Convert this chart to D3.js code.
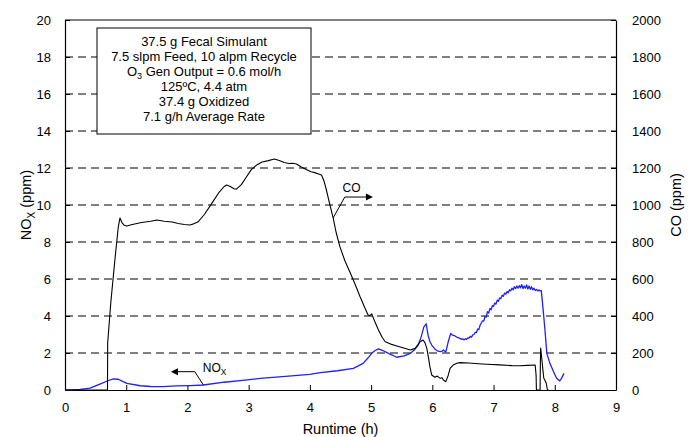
<!DOCTYPE html>
<html>
<head>
<meta charset="utf-8">
<script src="https://cdn.jsdelivr.net/npm/d3@7"></script>
<style>
  html, body { margin: 0; padding: 0; background: #fff; }
  svg { display: block; font-family: "Liberation Sans", Arial, sans-serif; }
</style>
</head>
<body>
<svg id="chart" width="693" height="437"></svg>
<script>
// Runtime (h) and CO concentration (ppm, right axis)
const coTime = [0, 0.30, 0.60, 0.694, 0.697, 0.75, 0.82, 0.87, 0.898, 0.93, 0.97, 1.008, 1.10, 1.25, 1.40, 1.50, 1.62, 1.75, 1.85, 1.95, 2.04, 2.10, 2.17,
  2.28, 2.40, 2.52, 2.60, 2.64, 2.70, 2.76, 2.80, 2.88, 2.96, 3.04, 3.13, 3.22, 3.32, 3.42, 3.50, 3.58, 3.66, 3.72, 3.78, 3.86, 3.94, 4.02, 4.08, 4.14, 4.19,
  4.23, 4.27, 4.32, 4.38, 4.43, 4.49, 4.57, 4.66, 4.74, 4.82, 4.89, 4.95, 4.98, 5.01, 5.06, 5.12, 5.18, 5.23, 5.32, 5.42, 5.52, 5.64, 5.72, 5.80, 5.85,
  5.88, 5.91, 5.94, 5.96, 5.99, 6.04, 6.08, 6.13, 6.16, 6.18, 6.22, 6.26, 6.29, 6.34, 6.40, 6.45, 6.60, 6.75, 6.89, 7.10, 7.30, 7.43, 7.55, 7.68, 7.695,
  7.70, 7.76, 7.765, 7.77, 7.79, 7.82, 7.86, 7.88, 7.90];
const coPpm = [0, 0, 0, 0, 254, 480, 720, 880, 930, 905, 890, 886, 895, 905, 912, 919, 912, 908, 900, 895, 892, 898, 908,
  950, 1010, 1070, 1100, 1108, 1100, 1088, 1086, 1110, 1150, 1190, 1216, 1232, 1240, 1249, 1240, 1230, 1224, 1226, 1222, 1205, 1192, 1180, 1175, 1168, 1162,
  1130, 1081, 1010, 930, 850, 775, 700, 632, 570, 504, 450, 405, 402, 411, 370, 324, 285, 261, 248, 238, 228, 216, 225, 261, 270,
  255, 225, 170, 126, 81, 69, 75, 63, 66, 54, 45, 80, 117, 135, 145, 148, 146, 142, 139, 136, 132, 131, 133, 135, 80,
  0, 0, 160, 227, 162, 65, 38, 0, 0];

// Runtime (h) and NOx concentration (ppm, left axis)
const noxTime = [0, 0.10, 0.25, 0.41, 0.57, 0.70, 0.79, 0.87, 0.95, 1.01, 1.23, 1.40, 1.60, 1.82, 2.05, 2.26, 2.60, 2.90, 3.19, 3.60, 4.00, 4.17, 4.45, 4.71, 4.87,
  4.94, 5.01, 5.06, 5.12, 5.20, 5.30, 5.42, 5.54, 5.64, 5.70, 5.77, 5.82, 5.86, 5.90, 5.93, 5.96, 5.99, 6.04, 6.08, 6.13, 6.16, 6.18, 6.22, 6.26, 6.30,
  6.33, 6.37, 6.41, 6.45, 6.48,
  6.50, 6.52, 6.54, 6.56, 6.58, 6.60, 6.62, 6.64, 6.66, 6.68, 6.70, 6.72, 6.74, 6.76, 6.78, 6.80, 6.82, 6.84, 6.86, 6.88, 6.90, 6.92, 6.94, 6.96, 6.98,
  7.00, 7.02, 7.04, 7.06, 7.08, 7.10, 7.12, 7.14, 7.16, 7.18, 7.20, 7.22, 7.24, 7.26, 7.28, 7.30, 7.32, 7.34, 7.36, 7.38, 7.40, 7.42, 7.44, 7.46, 7.48,
  7.50, 7.52, 7.54, 7.56, 7.58, 7.60, 7.62, 7.64, 7.66, 7.68, 7.70, 7.72, 7.74, 7.76, 7.78,
  7.80, 7.84, 7.87, 7.92, 7.98, 8.03, 8.08, 8.11, 8.15];
const noxPpm = [0, 0.01, 0.03, 0.10, 0.32, 0.50, 0.60, 0.58, 0.45, 0.36, 0.23, 0.19, 0.18, 0.22, 0.24, 0.27, 0.42, 0.52, 0.63, 0.74, 0.85, 0.94, 1.04, 1.17, 1.44,
  1.70, 1.98, 2.12, 2.22, 2.12, 1.95, 1.77, 1.84, 1.98, 2.15, 2.43, 2.90, 3.40, 3.58, 2.97, 2.62, 2.43, 2.22, 2.12, 2.07, 2.10, 2.16, 2.05, 2.61, 3.06,
  2.96, 2.92, 2.84, 2.79, 2.74,
  2.76, 2.71, 2.77, 2.74, 2.82, 2.80, 2.90, 2.86, 2.98, 3.00, 3.12, 3.10, 3.30, 3.26, 3.50, 3.62, 3.74, 3.72, 3.98, 3.94, 4.24, 4.16, 4.40, 4.34, 4.56,
  4.52, 4.70, 4.64, 4.86, 4.80, 4.98, 4.94, 5.12, 5.06, 5.24, 5.18, 5.32, 5.26, 5.42, 5.36, 5.50, 5.42, 5.58, 5.48, 5.62, 5.50, 5.64, 5.52, 5.70, 5.48,
  5.62, 5.50, 5.68, 5.46, 5.62, 5.44, 5.58, 5.42, 5.50, 5.38, 5.44, 5.36, 5.40, 5.36, 5.37,
  4.68, 3.24, 1.98, 1.44, 0.99, 0.63, 0.49, 0.63, 0.90];

// Axis ticks
const xTicks = [0, 1, 2, 3, 4, 5, 6, 7, 8, 9];
const noxTicks = [0, 2, 4, 6, 8, 10, 12, 14, 16, 18, 20];
const coTicks = [0, 200, 400, 600, 800, 1000, 1200, 1400, 1600, 1800, 2000];

// Run conditions shown in the text box
const infoLines = [
  ["37.5 g Fecal Simulant"],
  ["7.5 slpm Feed, 10 alpm Recycle"],
  ["O", "3", " Gen Output = 0.6 mol/h"],
  ["125ºC, 4.4 atm"],
  ["37.4 g Oxidized"],
  ["7.1 g/h Average Rate"]
];

const svg = d3.select("#chart");
const m = { left: 65, right: 616, top: 20, bottom: 390 };

const x = d3.scaleLinear().domain([0, 9]).range([m.left, m.right]);
const yN = d3.scaleLinear().domain([0, 20]).range([m.bottom, m.top]);
const yC = d3.scaleLinear().domain([0, 2000]).range([m.bottom, m.top]);

// dashed gridlines
svg.append("g").selectAll("line")
  .data(noxTicks.filter(d => d > 0 && d < 20))
  .join("line")
  .attr("x1", m.left).attr("x2", m.right)
  .attr("y1", d => yN(d)).attr("y2", d => yN(d))
  .attr("stroke", "#000").attr("stroke-width", 1)
  .attr("stroke-dasharray", "8,5");

// top border
svg.append("line")
  .attr("x1", m.left).attr("x2", m.right)
  .attr("y1", m.top).attr("y2", m.top)
  .attr("stroke", "#000").attr("stroke-width", 1);

const styleAxis = g => {
  g.select(".domain").attr("stroke", "#000").attr("stroke-width", 1.2);
  g.selectAll(".tick line").attr("stroke", "#000");
  g.selectAll(".tick text").attr("fill", "#000")
    .style("font-family", '"Liberation Sans", Arial, sans-serif').style("font-size", "13px");
};

svg.append("g")
  .attr("transform", `translate(0,${m.bottom})`)
  .call(d3.axisBottom(x).tickValues(xTicks).tickFormat(d3.format("d"))
    .tickSizeInner(-5).tickSizeOuter(0).tickPadding(13))
  .call(styleAxis);

svg.append("g")
  .attr("transform", `translate(${m.left},0)`)
  .call(d3.axisLeft(yN).tickValues(noxTicks).tickFormat(d3.format("d"))
    .tickSizeInner(-5).tickSizeOuter(0).tickPadding(14))
  .call(styleAxis);

svg.append("g")
  .attr("transform", `translate(${m.right},0)`)
  .call(d3.axisRight(yC).tickValues(coTicks).tickFormat(d3.format("d"))
    .tickSizeInner(-5).tickSizeOuter(0).tickPadding(16))
  .call(styleAxis);

// series
const coLine = d3.line().x(i => x(coTime[i])).y(i => yC(coPpm[i]));
const noxLine = d3.line().x(i => x(noxTime[i])).y(i => yN(noxPpm[i]));

svg.append("path")
  .attr("d", noxLine(d3.range(noxTime.length)))
  .attr("fill", "none").attr("stroke", "#1f1fff").attr("stroke-width", 1.3)
  .attr("stroke-linejoin", "round");

svg.append("path")
  .attr("d", coLine(d3.range(coTime.length)))
  .attr("fill", "none").attr("stroke", "#000").attr("stroke-width", 1.1)
  .attr("stroke-linejoin", "round");

// axis titles
const font = '"Liberation Sans", Arial, sans-serif';
const ylab = svg.append("text")
  .attr("transform", `translate(31,${(m.top + m.bottom) / 2}) rotate(-90)`)
  .attr("text-anchor", "middle").attr("font-size", 14.5).attr("font-family", font);
ylab.append("tspan").text("NO");
ylab.append("tspan").text("X").attr("font-size", 10).attr("dy", 4);
ylab.append("tspan").text(" (ppm)").attr("dy", -4);

svg.append("text")
  .attr("transform", `translate(681,${(m.top + m.bottom) / 2}) rotate(-90)`)
  .attr("text-anchor", "middle").attr("font-size", 14.5).attr("font-family", font)
  .text("CO (ppm)");

svg.append("text")
  .attr("x", (m.left + m.right) / 2).attr("y", 434)
  .attr("text-anchor", "middle").attr("font-size", 14.5).attr("font-family", font)
  .text("Runtime (h)");

// text box
svg.append("rect")
  .attr("x", 97).attr("y", 28).attr("width", 214).attr("height", 106)
  .attr("fill", "#fff").attr("stroke", "#000").attr("stroke-width", 1);

infoLines.forEach((parts, i) => {
  const t = svg.append("text")
    .attr("x", 204).attr("y", 46 + i * 15)
    .attr("text-anchor", "middle").attr("font-size", 13).attr("font-family", font);
  if (parts.length === 1) {
    t.text(parts[0]);
  } else {
    t.append("tspan").text(parts[0]);
    t.append("tspan").text(parts[1]).attr("font-size", 9).attr("dy", 3);
    t.append("tspan").text(parts[2]).attr("dy", -3);
  }
});

// callouts
const arrowHead = (tipX, tipY, dir) => {
  const L = 7, W = 3.5;
  svg.append("path")
    .attr("d", `M${tipX},${tipY} L${tipX - dir * L},${tipY - W} L${tipX - dir * L},${tipY + W} Z`)
    .attr("fill", "#000");
};

// CO callout
const coPts = [[4.38, 9.3], [4.57, 10.43], [4.96, 10.43]];
svg.append("path")
  .attr("d", d3.line()(coPts.map(p => [x(p[0]), yN(p[1])])))
  .attr("fill", "none").attr("stroke", "#000").attr("stroke-width", 1);
arrowHead(x(5.03), yN(10.43), 1);
svg.append("text")
  .attr("x", x(4.68)).attr("y", yN(10.7))
  .attr("text-anchor", "middle").attr("font-size", 12).attr("font-family", font)
  .text("CO");

// NOx callout
const noxPts = [[2.26, 0.27], [2.12, 0.99], [1.80, 0.99]];
svg.append("path")
  .attr("d", d3.line()(noxPts.map(p => [x(p[0]), yN(p[1])])))
  .attr("fill", "none").attr("stroke", "#000").attr("stroke-width", 1);
arrowHead(x(1.73), yN(0.99), -1);
const nl = svg.append("text")
  .attr("x", x(2.25)).attr("y", yN(0.96))
  .attr("font-size", 12).attr("font-family", font);
nl.append("tspan").text("NO");
nl.append("tspan").text("X").attr("font-size", 8.5).attr("dy", 3);
</script>
</body>
</html>
